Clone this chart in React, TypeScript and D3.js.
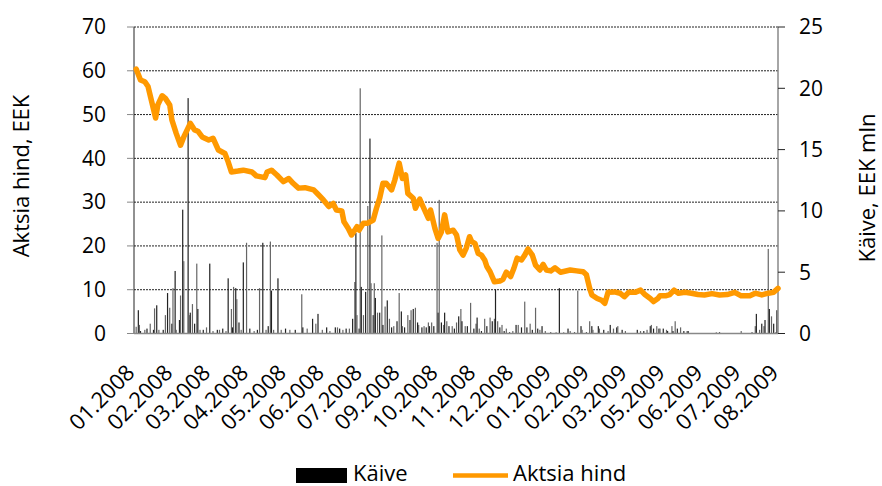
import React from 'react'
import * as d3 from 'd3'

// date axis: Excel-style, every 35 days starting 01.01.2008
const startDate = new Date(2008, 0, 1)
const endDate = new Date(2009, 7, 18)
const xTickStepDays = 35
const xTickLabels = [
  '01.2008', '02.2008', '03.2008', '04.2008', '05.2008', '06.2008', '07.2008', '09.2008', '10.2008',
  '11.2008', '12.2008', '01.2009', '02.2009', '03.2009', '05.2009', '06.2009', '07.2009', '08.2009',
]

const priceTicks = [0, 10, 20, 30, 40, 50, 60, 70]
const volumeTicks = [0, 5, 10, 15, 20, 25]

// share price, EEK (day offset from 01.01.2008)
const priceDays = [
  2, 6, 10, 13, 16, 20, 22, 26, 29, 33, 35, 39, 43, 46, 52, 56, 59, 63, 69, 73, 78, 84, 87, 90, 96,
  101, 109, 113, 121, 123, 127, 132, 138, 143, 147, 152, 158, 166, 170, 175, 180, 184, 187, 192, 194,
  198, 201, 206, 208, 212, 216, 221, 224, 227, 230, 233, 238, 241, 245, 248, 251, 253, 258, 260, 264,
  267, 272, 274, 278, 281, 284, 287, 290, 295, 298, 301, 304, 307, 310, 312, 315, 318, 321, 324, 326,
  329, 333, 338, 341, 344, 348, 351, 354, 358, 361, 364, 368, 371, 375, 378, 381, 385, 389, 394, 403,
  409, 415, 418, 421, 423, 428, 432, 435, 438, 444, 449, 453, 457, 463, 468, 472, 477, 480, 484, 486,
  491, 495, 499, 503, 509, 515, 521, 527, 534, 541, 548, 555, 561, 569, 574, 580, 586, 591, 595,
]
const priceValues = [
  60.4, 57.9, 57.5, 56.4, 53.3, 49.2, 52.2, 54.3, 53.7, 52.2, 48.8, 45.7, 43.0, 44.9, 48.0, 46.5, 46.2,
  44.9, 44.2, 44.6, 41.9, 41.1, 39.2, 36.9, 37.1, 37.3, 36.9, 36.0, 35.6, 36.9, 37.3, 36.2, 34.7, 35.4,
  34.3, 33.2, 33.3, 32.8, 31.8, 30.5, 29.0, 29.7, 28.2, 28.0, 25.5, 24.0, 22.5, 24.4, 23.6, 25.2, 25.2,
  25.9, 28.6, 30.9, 34.3, 34.3, 32.8, 35.1, 38.9, 35.4, 36.2, 32.0, 30.9, 28.6, 30.7, 29.0, 26.3, 28.2,
  24.0, 21.7, 23.2, 27.1, 23.2, 23.6, 22.5, 19.1, 17.9, 19.5, 22.1, 21.0, 20.6, 18.3, 17.9, 16.8, 15.3,
  14.1, 11.8, 12.0, 12.4, 14.0, 13.0, 14.9, 17.2, 16.8, 17.9, 19.3, 17.9, 15.6, 14.5, 15.8, 14.5, 14.3,
  15.0, 14.0, 14.5, 14.3, 14.1, 13.4, 10.3, 8.8, 8.0, 7.6, 6.9, 9.4, 9.5, 9.2, 8.4, 9.4, 9.4, 9.9, 8.9,
  8.0, 7.3, 8.0, 8.6, 8.6, 8.9, 9.9, 9.2, 9.4, 9.2, 8.9, 8.8, 9.1, 8.8, 8.9, 9.4, 8.6, 8.6, 9.2, 8.8,
  9.2, 9.4, 10.3,
]

// turnover, EEK mln (day offset from 01.01.2008)
const volumeDays = [
  2, 4, 5, 6, 10, 12, 15, 18, 19, 21, 23, 27, 29, 31, 33, 35, 36, 38, 39, 42, 43, 45, 46, 50, 51, 52,
  54, 56, 58, 59, 61, 64, 67, 70, 73, 77, 79, 82, 85, 87, 90, 91, 92, 94, 95, 97, 99, 101, 104, 107,
  111, 114, 116, 119, 122, 124, 126, 127, 129, 133, 136, 140, 144, 149, 155, 156, 160, 165, 168, 170,
  174, 178, 181, 186, 188, 190, 193, 196, 199, 202, 204, 205, 206, 208, 209, 210, 212, 214, 216, 218,
  219, 221, 222, 223, 225, 227, 229, 230, 232, 234, 236, 238, 240, 243, 245, 247, 248, 250, 253, 255,
  256, 258, 260, 262, 263, 266, 268, 270, 272, 273, 275, 277, 280, 281, 282, 284, 286, 287, 289, 291,
  294, 296, 298, 300, 302, 303, 306, 308, 311, 314, 316, 317, 319, 321, 324, 326, 329, 331, 333, 334,
  336, 338, 340, 342, 344, 347, 350, 353, 355, 358, 361, 363, 366, 368, 371, 373, 375, 377, 380, 385,
  390, 393, 397, 401, 403, 407, 410, 413, 414, 418, 421, 423, 424, 429, 430, 434, 438, 440, 443, 446,
  447, 451, 454, 465, 468, 471, 474, 477, 478, 480, 483, 485, 486, 489, 492, 493, 497, 498, 500, 502,
  505, 508, 511, 512, 538, 541, 561, 571, 574, 575, 578, 580, 582, 583, 586, 587, 589, 591, 593, 594,
]
const volumeValues = [
  0.55, 1.9, 0.7, 0.2, 0.3, 0.4, 0.8, 0.3, 2.05, 2.3, 0.3, 0.3, 1.5, 3.3, 2.1, 0.8, 3.7, 5.1, 0.3, 1.1,
  3.1, 10.1, 5.9, 19.2, 1.5, 1.7, 2.4, 0.8, 5.7, 2.0, 0.3, 0.3, 0.5, 5.7, 0.2, 0.3, 0.3, 0.4, 0.2, 4.5,
  2.0, 0.5, 3.8, 3.7, 2.8, 0.9, 0.3, 5.8, 7.4, 0.4, 0.2, 0.3, 3.7, 7.4, 0.3, 0.6, 7.5, 3.5, 0.3, 4.5,
  0.3, 0.4, 0.3, 0.3, 3.2, 0.5, 0.4, 1.2, 0.8, 1.6, 0.3, 0.5, 0.2, 0.5, 0.5, 0.4, 0.3, 0.4, 0.4, 1.2,
  4.2, 8.2, 1.5, 0.4, 20.0, 3.8, 1.5, 3.4, 10.4, 15.9, 4.1, 1.5, 4.1, 2.9, 1.7, 1.7, 8.0, 0.7, 2.2, 2.7,
  1.2, 0.5, 0.6, 1.0, 3.3, 1.8, 0.6, 0.5, 1.5, 1.1, 1.9, 2.0, 2.1, 0.9, 0.7, 0.5, 0.6, 0.5, 0.9, 0.6,
  0.9, 0.6, 7.4, 1.7, 10.9, 0.9, 0.7, 1.7, 1.0, 0.6, 0.6, 0.4, 0.9, 1.4, 2.0, 1.0, 0.6, 0.6, 2.5, 0.4,
  0.8, 1.3, 0.4, 0.2, 1.2, 0.6, 1.3, 1.0, 1.2, 3.6, 1.0, 0.5, 0.7, 0.2, 0.4, 0.1, 0.2, 0.7, 0.7, 0.5,
  2.6, 0.5, 0.8, 0.3, 2.1, 0.4, 0.3, 0.6, 0.2, 0.1, 0.1, 3.7, 0.1, 0.4, 0.2, 0.1, 3.5, 0.6, 0.3, 0.1,
  1.0, 0.6, 0.3, 0.6, 0.4, 0.3, 0.2, 0.7, 0.4, 0.5, 0.6, 0.3, 0.2, 0.3, 0.2, 0.2, 0.3, 0.6, 0.7, 0.4,
  0.6, 0.4, 0.4, 0.4, 0.3, 0.2, 0.6, 0.2, 1.0, 0.4, 0.5, 0.2, 0.2, 0.2, 0.1, 0.1, 0.2, 0.1, 0.6, 1.6,
  0.3, 0.8, 0.6, 1.1, 6.9, 2.0, 1.4, 0.8, 0.1, 1.9,
]

const W = 882
const H = 486
const plot = { left: 134, right: 778, top: 27, bottom: 333.5 }
const font = "'Open Sans', sans-serif"
const orange = '#ff9900'

const App: React.FC = () => {
  const dayToDate = (d: number) => d3.timeDay.offset(startDate, d)

  const x = d3.scaleTime().domain([startDate, endDate]).range([plot.left, plot.right])
  const yPrice = d3.scaleLinear().domain([0, 70]).range([plot.bottom, plot.top])
  const yVol = d3.scaleLinear().domain([0, 25]).range([plot.bottom, plot.top])

  const pricePoints: [Date, number][] = priceDays.map((d, i) => [dayToDate(d), priceValues[i]])
  const line = d3
    .line<[Date, number]>()
    .x(d => x(d[0]))
    .y(d => yPrice(d[1]))

  const xTicks = xTickLabels.map((label, i) => ({ label, date: dayToDate(i * xTickStepDays) }))

  return (
    <svg width={W} height={H} style={{ position: 'absolute', left: 0, top: 0 }} fontFamily={font}>
      <rect width={W} height={H} fill="#fff" />

      {/* gridlines */}
      {priceTicks.filter(t => t > 0).map(t => (
        <line
          key={`g${t}`}
          x1={plot.left}
          x2={plot.right}
          y1={yPrice(t)}
          y2={yPrice(t)}
          stroke="#222"
          strokeWidth={1}
          strokeDasharray="2,1"
        />
      ))}

      {/* volume bars */}
      {volumeDays.map((d, i) => {
        const cx = x(dayToDate(d))
        return (
          <rect
            key={`v${i}`}
            x={cx - 0.6}
            width={1.2}
            y={yVol(volumeValues[i])}
            height={plot.bottom - yVol(volumeValues[i])}
            fill={i % 2 ? '#222' : '#666'}
          />
        )
      })}

      {/* axes */}
      <line x1={plot.left} x2={plot.left} y1={plot.top} y2={plot.bottom} stroke="#222" />
      <line x1={plot.right} x2={plot.right} y1={plot.top} y2={plot.bottom} stroke="#888" strokeWidth={1.5} />
      <line x1={plot.left} x2={plot.right} y1={plot.bottom} y2={plot.bottom} stroke="#888" strokeWidth={1.5} />

      {priceTicks.map(t => (
        <g key={`l${t}`}>
          <line x1={plot.left - 7} x2={plot.left} y1={yPrice(t)} y2={yPrice(t)} stroke="#888" />
          <text x={106} y={yPrice(t)} dy="0.35em" textAnchor="end" fontSize={21}>
            {t}
          </text>
        </g>
      ))}

      {volumeTicks.map(t => (
        <g key={`r${t}`}>
          <line x1={plot.right} x2={plot.right + 7} y1={yVol(t)} y2={yVol(t)} stroke="#222" />
          <text x={799} y={yVol(t)} dy="0.35em" textAnchor="start" fontSize={21}>
            {t}
          </text>
        </g>
      ))}

      {xTicks.map(t => {
        const tx = x(t.date) + 2
        const ty = 374
        return (
          <text
            key={t.label}
            x={tx}
            y={ty}
            textAnchor="end"
            fontSize={22}
            transform={`rotate(-45 ${tx} ${ty})`}
          >
            {t.label}
          </text>
        )
      })}

      {/* price line */}
      <path
        d={line(pricePoints) || ''}
        fill="none"
        stroke={orange}
        strokeWidth={5.5}
        strokeLinejoin="round"
        strokeLinecap="round"
      />

      {/* axis titles */}
      <text transform="translate(29 176) rotate(-90)" textAnchor="middle" fontSize={22}>
        Aktsia hind, EEK
      </text>
      <text transform="translate(875 188) rotate(-90)" textAnchor="middle" fontSize={22}>
        Käive, EEK mln
      </text>

      {/* legend */}
      <rect x={296} y={468} width={51} height={15} fill="#000" />
      <text x={353} y={481} fontSize={22}>
        Käive
      </text>
      <line x1={453} x2={508} y1={475.5} y2={475.5} stroke={orange} strokeWidth={4.5} />
      <text x={513} y={481} fontSize={22}>
        Aktsia hind
      </text>
    </svg>
  )
}

export default App
